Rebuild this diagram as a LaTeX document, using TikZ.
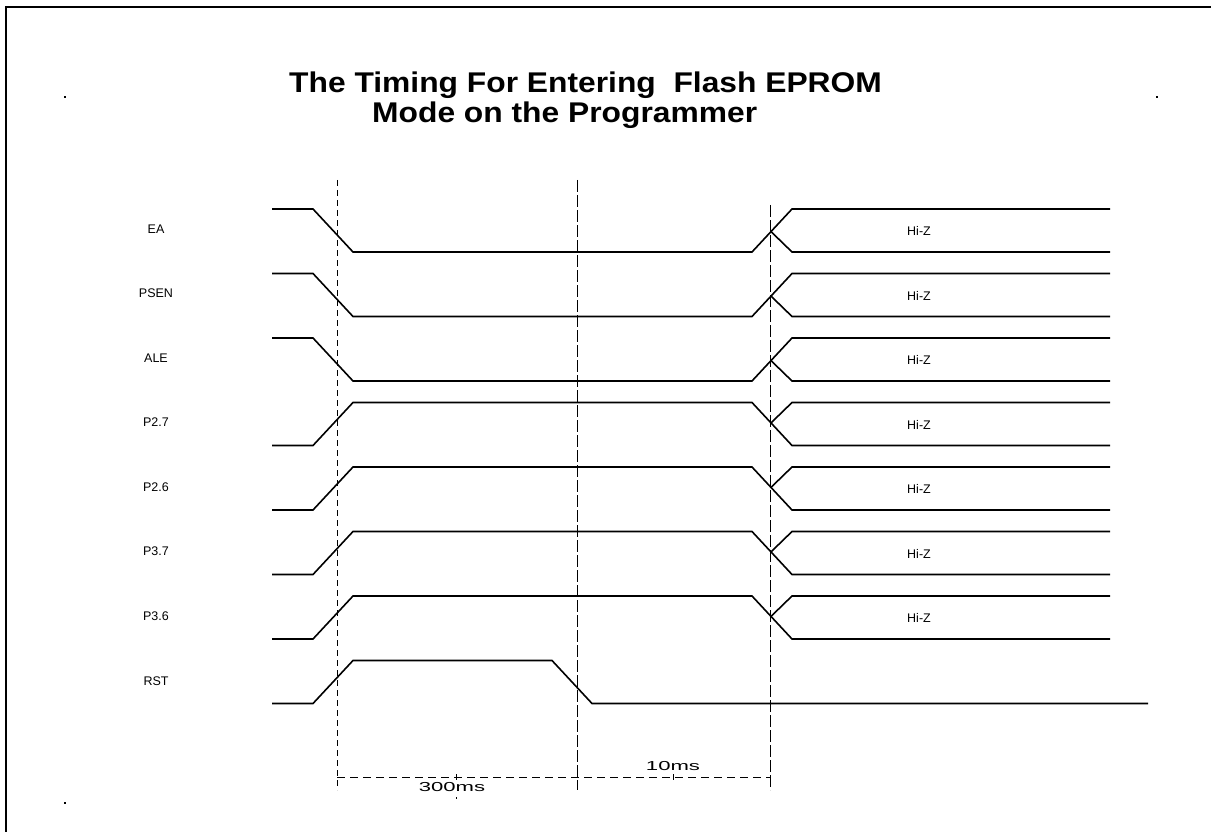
\documentclass[tikz,border=0pt]{standalone}
\usepackage{fontspec}
\setmainfont{Liberation Sans}
\begin{document}
\begin{tikzpicture}[x=1pt,y=-1pt,
  sig/.style={line width=1.6pt,line join=miter},
  frame/.style={line width=2pt},
  vguide/.style={line width=0.8pt,dash pattern=on 6pt off 4pt},
  vguidel/.style={line width=0.8pt,dash pattern=on 12pt off 3pt},
  hguide/.style={line width=0.8pt,dash pattern=on 8pt off 5pt},
  lbl/.style={font=\fontsize{12.5}{14}\selectfont,inner sep=0pt},
  hiz/.style={font=\fontsize{12.5}{14}\selectfont,inner sep=0pt},
  dim/.style={font=\fontsize{13}{15}\selectfont,inner sep=0pt,xscale=1.7},
  ttl/.style={font=\bfseries\fontsize{28.5}{32}\selectfont,inner sep=0pt,anchor=base west,xscale=1.115}]
\useasboundingbox (0,0) rectangle (1211,832);
% frame (top and left edges)
\draw[frame] (6,832) -- (6,7) -- (1211,7);
% corner dots
\fill (64,96) rectangle (66,98);
\fill (1156,96) rectangle (1158,98);
\fill (64,802) rectangle (66,804);
% title
\node[ttl] (t1) at (289,93) {The Timing For Entering\ \ Flash EPROM};
\node[ttl] (t2) at (372,123) {Mode on the Programmer};
% vertical guide lines
\draw[vguide] (337,180) -- (337,790);
\draw[vguidel] (577,180) -- (577,790);
\draw[vguidel] (770,205) -- (770,790);
% falling signals
\foreach \i/\name in {0/EA,1/PSEN,2/ALE}{
  \pgfmathsetmacro\H{209+64.5*\i}
  \pgfmathsetmacro\L{\H+43}
  \pgfmathsetmacro\M{\H+22.6}
  \draw[sig] (272,\H) -- (313,\H) -- (353,\L) -- (752,\L) -- (792,\H) -- (1110,\H);
  \draw[sig] (771,\M) -- (792,\L) -- (1110,\L);
  \node[lbl] (l\i) at (156,\H+20) {\name};
  \node[hiz] (z\i) at (919,\H+22) {Hi-Z};
}
% rising signals
\foreach \i/\name in {3/P2.7,4/P2.6,5/P3.7,6/P3.6}{
  \pgfmathsetmacro\H{209+64.5*\i}
  \pgfmathsetmacro\L{\H+43}
  \pgfmathsetmacro\M{\H+20.4}
  \draw[sig] (272,\L) -- (313,\L) -- (353,\H) -- (752,\H) -- (792,\L) -- (1110,\L);
  \draw[sig] (771,\M) -- (792,\H) -- (1110,\H);
  \node[lbl] (l\i) at (156,\H+20) {\name};
  \node[hiz] (z\i) at (919,\H+22) {Hi-Z};
}
% RST
\draw[sig] (272,703.5) -- (313,703.5) -- (353,660.5) -- (552,660.5) -- (592,703.5) -- (1148,703.5);
\node[lbl] (l7) at (156,681) {RST};
% dimension line
\draw[hguide] (337,777) -- (770,777);
\draw[line width=0.6pt] (456,774) -- (456,780);
\draw[line width=0.6pt] (673,774) -- (673,780);
\draw[line width=0.6pt] (456,797) -- (456,799);
\node[dim] (d1) at (452,787) {300ms};
\node[dim] (d2) at (673,766) {10ms};
\end{tikzpicture}
\end{document}
